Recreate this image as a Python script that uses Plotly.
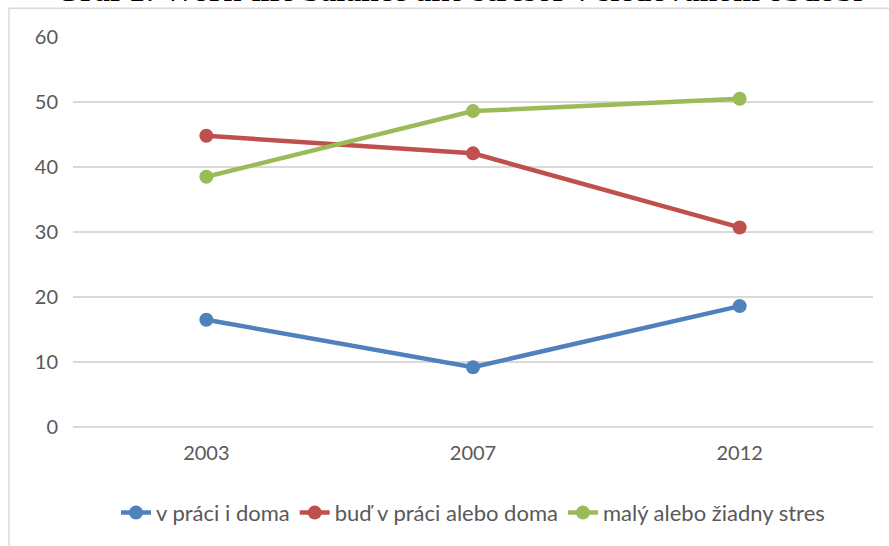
import plotly.graph_objects as go

# donnees
roky = ["2003", "2007", "2012"]
v_praci_i_doma = [16.5, 9.2, 18.6]
bud_v_praci_alebo_doma = [44.8, 42.1, 30.7]
maly_alebo_ziadny_stres = [38.5, 48.6, 50.5]

nazvy = ["v práci i doma", "buď v práci alebo doma", "malý alebo žiadny stres"]
farby = ["#4F81BD", "#C0504D", "#9BBB59"]
titulok = "Graf 1: Work-life balance ako stresor v sledovanom období"

fig = go.Figure()

for nazov, hodnoty, farba in zip(nazvy, [v_praci_i_doma, bud_v_praci_alebo_doma, maly_alebo_ziadny_stres], farby):
    fig.add_trace(go.Scatter(
        x=roky,
        y=hodnoty,
        mode="lines+markers",
        name=nazov,
        line=dict(color=farba, width=4.5),
        marker=dict(color=farba, size=14)
    ))

# cadre gris autour du graphique
fig.add_shape(
    type="rect", xref="paper", yref="paper",
    x0=-0.08, x1=1.2, y0=-0.5, y1=1.074,
    line=dict(color="#D9D9D9", width=1.5),
    fillcolor="rgba(0,0,0,0)", layer="below"
)

# titre coupe en haut comme dans l'original
fig.add_annotation(
    text="<b>" + titulok + "</b>",
    xref="paper", yref="paper",
    x=0.4825, y=1.068,
    xanchor="center", yanchor="bottom",
    showarrow=False,
    font=dict(family="Liberation Serif, serif", size=32, color="black")
)

fig.update_layout(
    width=889,
    height=546,
    margin=dict(l=73, r=16, t=37, b=117),
    paper_bgcolor="white",
    plot_bgcolor="white",
    font=dict(family="Lato, Carlito, sans-serif", size=20, color="#595959"),
    showlegend=True,
    legend=dict(
        orientation="h",
        x=0.5, xanchor="center",
        y=-0.22, yanchor="middle",
        font=dict(size=22, color="#595959"),
        itemwidth=30
    ),
    xaxis=dict(
        type="category",
        range=[-0.5, 2.5],
        showgrid=False,
        showline=False,
        zeroline=False,
        ticks="",
        ticklabelstandoff=12
    ),
    yaxis=dict(
        range=[0, 60],
        dtick=10,
        showgrid=True,
        gridcolor="#D9D9D9",
        gridwidth=1.5,
        zeroline=True,
        zerolinecolor="#D9D9D9",
        zerolinewidth=1.5,
        showline=False,
        ticks="",
        ticklabelstandoff=14
    )
)

# pas de marge de page autour du graphique, pas de barre d'outils
fig.write_html("out.html", config={"displayModeBar": False},
               post_script="document.body.style.margin='0';")
